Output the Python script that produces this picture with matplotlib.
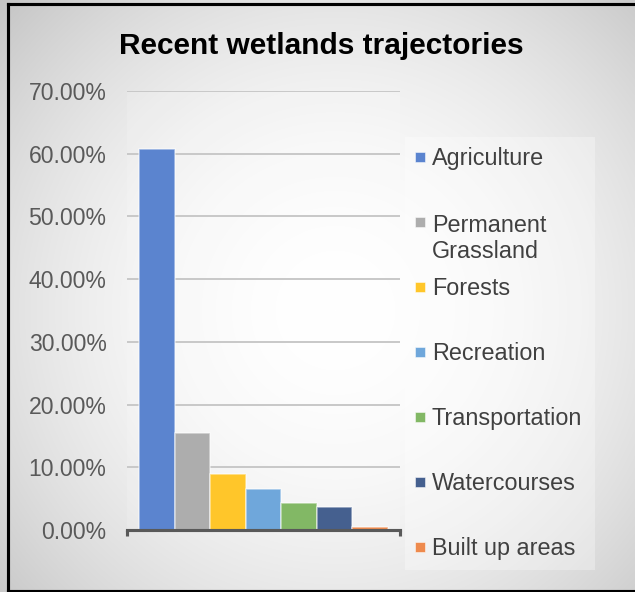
import numpy as np
import matplotlib
matplotlib.use("Agg")
import matplotlib.pyplot as plt
from matplotlib.patches import Rectangle
from matplotlib.lines import Line2D

# Share of recent wetland losses by land-use trajectory (%)
categories = ["Agriculture", "Permanent\nGrassland", "Forests", "Recreation",
              "Transportation", "Watercourses", "Built up areas"]
shares = [60.8, 15.4, 8.9, 6.5, 4.3, 3.6, 0.4]
colors = ["#5b84cf", "#adadad", "#ffc62a", "#6fa7db", "#82b865", "#45608f", "#ee8a4d"]
yticks = [0, 10, 20, 30, 40, 50, 60, 70]
title = "Recent wetlands trajectories"

W, H, DPI = 635, 592, 140
fig = plt.figure(figsize=(W / DPI, H / DPI), dpi=DPI)


def fx(px):
    return px / W


def fy(py):
    return 1 - py / H


# radial grey-to-white background
bg = fig.add_axes([0, 0, 1, 1], zorder=-10)
yy, xx = np.mgrid[0:H, 0:W]
r2 = (xx - 335.0) ** 2 + (yy - 310.0) ** 2
shade = np.clip(255 - 2.8e-4 * r2, 190, 255) / 255.0
bg.imshow(np.dstack([shade, shade, shade]), extent=[0, 1, 0, 1],
          aspect="auto", origin="upper")
bg.set_xlim(0, 1)
bg.set_ylim(0, 1)
bg.axis("off")

# outer frame (left, top, bottom edges)
for (x0, y0, x1, y1) in [(8, 4, 8, 591), (8, 4, 640, 4), (8, 591, 640, 591)]:
    fig.add_artist(Line2D([fx(x0), fx(x1)], [fy(y0), fy(y1)],
                          color="black", lw=1.6, transform=fig.transFigure))

# plot area
ax = fig.add_axes([fx(127), fy(530), fx(400) - fx(127), fy(91) - fy(530)])
ax.set_facecolor((1, 1, 1, 0.15))
x = np.arange(len(shares))
ax.bar(x, shares, width=1.0, color=colors,
       edgecolor=(1, 1, 1, 0.55), linewidth=0.8, zorder=3)
ax.set_xlim(-0.5 - 0.34, len(shares) - 0.5 + 0.34)
ax.set_ylim(0, 70)
ax.set_yticks(yticks)
ax.set_yticklabels([f"{v:.2f}%" for v in yticks], color="#595959",
                   fontsize=11.8, family=["Liberation Sans", "DejaVu Sans"])
ax.tick_params(axis="y", length=0, pad=10.5)
ax.yaxis.grid(True, color="#c8c8c8", lw=1.0, zorder=0)
ax.set_axisbelow(True)
for s in ["left", "right", "top"]:
    ax.spines[s].set_visible(False)
ax.spines["bottom"].set_color("#595959")
ax.spines["bottom"].set_linewidth(1.6)
ax.spines["bottom"].set_zorder(4)
ax.set_xticks(list(ax.get_xlim()))
ax.set_xticklabels([])
ax.tick_params(axis="x", direction="out", length=3.2, width=1.6, color="#595959")

# title
fig.text(fx(321), fy(46), title, ha="center", va="center", fontsize=15.4,
         fontweight="bold", family=["Liberation Sans", "DejaVu Sans"],
         color="black")

# legend panel
fig.add_artist(Rectangle((fx(405), fy(570)), fx(595) - fx(405), fy(137) - fy(570),
                         transform=fig.transFigure, facecolor=(1, 1, 1, 0.3),
                         edgecolor="none", zorder=1))
line_px = 28
for i, (lab, col) in enumerate(zip(categories, colors)):
    cy = 157 + 65 * i
    extra = lab.count("\n") * line_px
    fig.add_artist(Rectangle((fx(415), fy(cy + 5)), fx(10), 10 / H,
                             transform=fig.transFigure, facecolor=col,
                             edgecolor=(1, 1, 1, 0.5), lw=0.5, zorder=2))
    fig.text(fx(432), fy(cy + 8.3 + extra), lab, ha="left", va="baseline",
             fontsize=12, color="#404040", linespacing=1.2,
             family=["Liberation Sans", "DejaVu Sans"], zorder=2)

fig.savefig("out.png", dpi=DPI)
